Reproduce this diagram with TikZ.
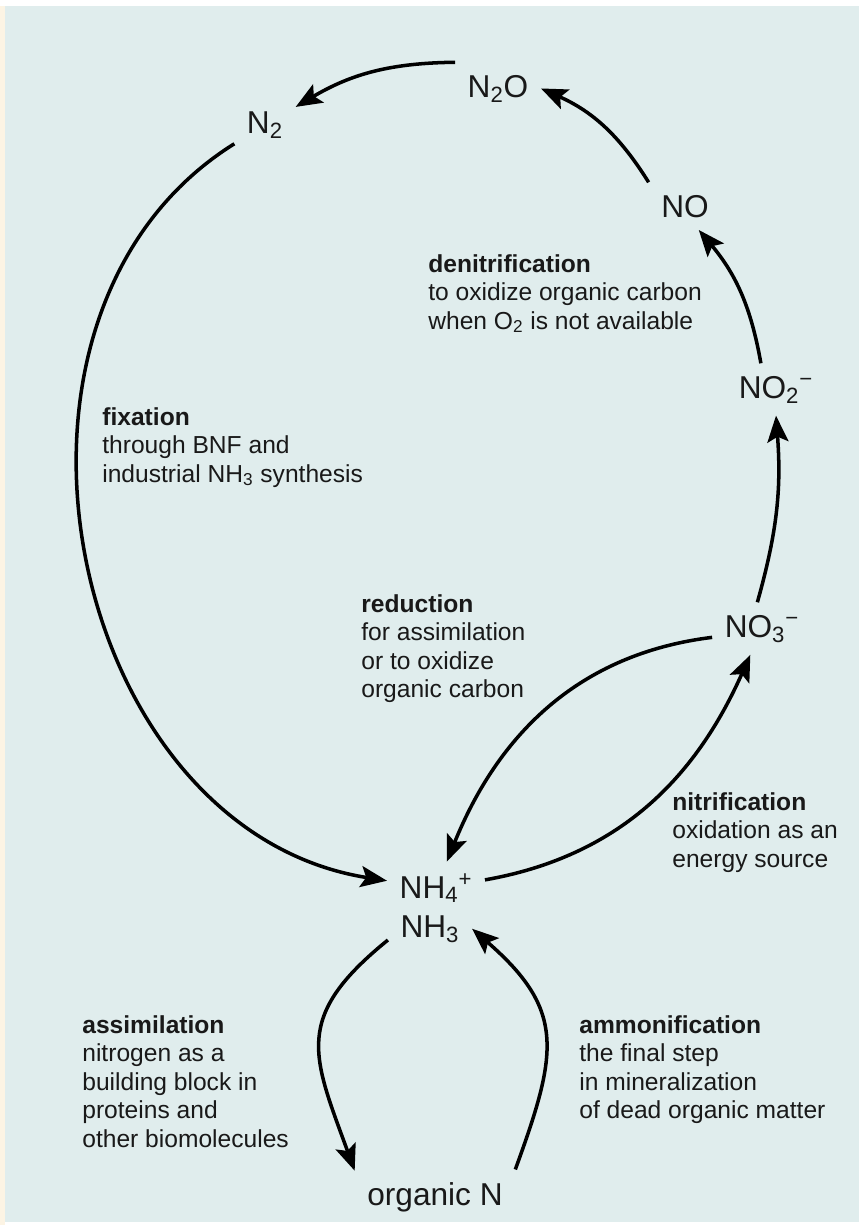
\documentclass[tikz,border=0pt]{standalone}
\usepackage{fontspec}
\setmainfont{Liberation Sans}
\usetikzlibrary{arrows.meta}
\definecolor{panel}{RGB}{224,237,237}
\definecolor{cream}{RGB}{252,244,228}
\definecolor{ink}{RGB}{25,25,25}

\begin{document}
\begin{tikzpicture}[x=0.02cm, y=0.02cm, text=ink,
    chem/.style={font=\fontsize{18}{22}\selectfont, inner sep=7pt, anchor=base},
    note/.style={font=\fontsize{14}{16.2}\selectfont, align=left, anchor=north west, inner sep=0pt},
    flow/.style={line width=2pt, -{Stealth[length=15pt, width=12pt, inset=3pt]}}]
  % background panel
  \useasboundingbox (0,0) rectangle (859,-1225);
  \fill[white] (0,0) rectangle (859,-1225);
  \fill[cream] (0,-6) rectangle (5,-1225);
  \fill[panel] (5,-6) rectangle (859,-1222);

  % species
  \node[chem] (n2o) at (498,-97) {N\textsubscript{2}O};
  \node[chem] (n2) at (265,-133) {N\textsubscript{2}};
  \node[chem] (no) at (685,-217) {NO};
  \node[chem] (no2) at (776,-398) {NO\textsubscript{2}\textsuperscript{−}};
  \node[chem] (no3) at (762,-637) {NO\textsubscript{3}\textsuperscript{−}};
  \node[chem] (nh4) at (436,-898) {NH\textsubscript{4}\textsuperscript{+}};
  \node[chem] (nh3) at (430,-937) {NH\textsubscript{3}};
  \node[chem] (orgn) at (435,-1205) {organic N};

  % processes
  \node[note] (fix) at (102,-407) {\textbf{fixation}\\through BNF and\\industrial NH\textsubscript{3} synthesis};
  \node[note] (denit) at (428,-254) {\textbf{denitrification}\\to oxidize organic carbon\\when O\textsubscript{2} is not available};
  \node[note] (red) at (361,-594) {\textbf{reduction}\\for assimilation\\or to oxidize\\organic carbon};
  \node[note] (nitr) at (672,-792) {\textbf{nitrification}\\oxidation as an\\energy source};
  \node[note] (assim) at (82,-1015) {\textbf{assimilation}\\nitrogen as a\\building block in\\proteins and\\other biomolecules};
  \node[note] (ammon) at (579,-1015) {\textbf{ammonification}\\the final step\\in mineralization\\of dead organic matter};

  \path[flow]
    (no3.100) edge[bend right=10] (no2.south)
    (no2.120) edge[bend right=15] (no.-60)
    (no.north west) edge[bend right=17] (n2o.east)
    (n2o.north west) edge[bend right=15] (n2.30)
    (n2) edge[out=212, in=171, looseness=1.1] (nh4)
    (nh4) edge[out=10, in=246] (no3)
    (no3.190) edge[out=187, in=68] (nh4)
    (nh3.195) edge[out=219, in=110, looseness=1.35] (orgn.162)
    (orgn.north east) edge[out=70, in=-41, looseness=1.3] (nh3.east);
\end{tikzpicture}
\end{document}
